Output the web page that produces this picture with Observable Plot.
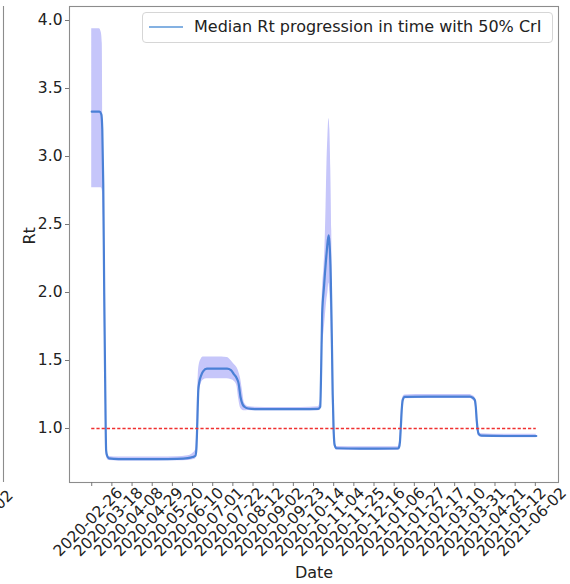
<!DOCTYPE html>
<html><head><meta charset="utf-8">
<script src="https://cdn.jsdelivr.net/npm/d3@7"></script>
<script src="https://cdn.jsdelivr.net/npm/@observablehq/plot@0.6"></script>
<style>
body{margin:0;background:#fff;}
#wrap{position:relative;width:570px;height:584px;overflow:hidden;font-family:"DejaVu Sans",sans-serif;}
#wrap > svg{position:absolute;left:0;top:0;}
#legend{position:absolute;left:142px;top:12px;width:409px;height:29px;border:1px solid #d6d6d6;border-radius:4px;background:rgba(255,255,255,0.85);}
#side{position:absolute;left:0;top:0;}
</style></head><body><div id="wrap"></div>
<script>
// ---- data ----
const dates = ["2020-02-26","2020-03-01","2020-03-05","2020-03-07","2020-03-08","2020-03-09","2020-03-10","2020-03-11","2020-03-12","2020-03-13","2020-03-15","2020-03-25","2020-04-15","2020-05-05","2020-05-25","2020-06-05","2020-06-10","2020-06-13","2020-06-14","2020-06-15","2020-06-16","2020-06-17","2020-06-19","2020-06-21","2020-06-25","2020-07-05","2020-07-16","2020-07-20","2020-07-23","2020-07-26","2020-07-28","2020-07-30","2020-08-01","2020-08-03","2020-08-07","2020-08-14","2020-09-05","2020-10-01","2020-10-19","2020-10-21","2020-10-22","2020-10-23","2020-10-25","2020-10-26","2020-10-27","2020-10-28","2020-10-29","2020-10-30","2020-10-31","2020-11-01","2020-11-02","2020-11-03","2020-11-04","2020-11-05","2020-11-07","2020-12-01","2021-01-10","2021-01-11","2021-01-12","2021-01-13","2021-01-14","2021-01-15","2021-01-17","2021-02-10","2021-03-26","2021-03-29","2021-03-31","2021-04-01","2021-04-02","2021-04-03","2021-04-04","2021-04-07","2021-05-01","2021-06-03"];
const median = [3.33,3.33,3.33,3.31,3.20,2.80,2.00,1.35,0.84,0.80,0.78,0.775,0.775,0.775,0.777,0.782,0.79,0.80,0.85,1.05,1.28,1.34,1.39,1.42,1.44,1.44,1.44,1.43,1.40,1.37,1.33,1.23,1.18,1.16,1.147,1.143,1.142,1.142,1.145,1.16,1.45,1.84,2.05,2.15,2.24,2.32,2.39,2.42,2.32,2.10,1.70,1.25,0.98,0.88,0.855,0.852,0.853,0.86,0.90,1.02,1.15,1.21,1.232,1.235,1.235,1.225,1.21,1.16,1.06,0.99,0.96,0.948,0.945,0.945];
const lower = [2.77,2.77,2.77,2.77,2.75,2.55,1.88,1.28,0.81,0.78,0.765,0.762,0.762,0.762,0.763,0.765,0.77,0.775,0.80,0.95,1.15,1.26,1.33,1.355,1.365,1.365,1.365,1.36,1.35,1.32,1.22,1.15,1.135,1.13,1.132,1.13,1.13,1.13,1.13,1.14,1.25,1.55,1.72,1.80,1.88,1.95,2.00,2.07,2.00,1.85,1.50,1.10,0.93,0.86,0.842,0.84,0.84,0.845,0.87,0.97,1.10,1.19,1.218,1.22,1.22,1.21,1.19,1.13,1.02,0.965,0.945,0.935,0.932,0.932];
const upper = [3.94,3.94,3.94,3.91,3.83,3.00,2.10,1.42,0.87,0.82,0.795,0.79,0.79,0.79,0.793,0.80,0.815,0.84,0.92,1.20,1.40,1.47,1.51,1.525,1.525,1.525,1.522,1.50,1.475,1.45,1.42,1.37,1.28,1.19,1.162,1.157,1.155,1.155,1.16,1.20,1.50,1.95,2.20,2.35,2.62,2.95,3.15,3.28,3.20,2.90,2.45,1.45,1.02,0.90,0.868,0.865,0.866,0.88,0.94,1.07,1.19,1.23,1.247,1.25,1.25,1.24,1.23,1.19,1.10,1.02,0.975,0.962,0.958,0.958];
const xTickLabels = ["2020-02-26","2020-03-18","2020-04-08","2020-04-29","2020-05-20","2020-06-10","2020-07-01","2020-07-22","2020-08-12","2020-09-02","2020-09-23","2020-10-14","2020-11-04","2020-11-25","2020-12-16","2021-01-06","2021-01-27","2021-02-17","2021-03-10","2021-03-31","2021-04-21","2021-05-12","2021-06-02"];
const yTicks = [1.0,1.5,2.0,2.5,3.0,3.5,4.0];
const refLevel = 1.0;
const legendLabel = "Median Rt progression in time with 50% CrI";
const xLabel = "Date";
const yLabel = "Rt";

// ---- build table ----
const rows = dates.map((d, i) => ({date: new Date(d), median: median[i], lo: lower[i], hi: upper[i]}));
const t0 = rows[0].date, t1 = rows[rows.length - 1].date;
const span = t1 - t0;
const xDomain = [new Date(+t0 - span * 0.05), new Date(+t1 + span * 0.05)];
const font = "DejaVu Sans, sans-serif";
const fs = 15.5;

const chart = Plot.plot({
  width: 570, height: 584,
  marginLeft: 69, marginRight: 12, marginTop: 6, marginBottom: 102,
  style: {fontFamily: font, fontSize: fs + "px", background: "transparent", overflow: "visible"},
  x: {type: "utc", domain: xDomain, axis: null},
  y: {domain: [0.603, 4.103], axis: null},
  marks: [
    Plot.areaY(rows, {x: "date", y1: "lo", y2: "hi", fill: "#c6c6fa", curve: "monotone-x"}),
    Plot.lineY(rows, {x: "date", y: "median", stroke: "#4a80d6", strokeWidth: 2.2, curve: "monotone-x"}),
    Plot.ruleY([refLevel], {x1: t0, x2: t1, stroke: "#f03030", strokeWidth: 1.3, strokeDasharray: "3.2,2"}),
    Plot.frame({stroke: "#8c8c8c", strokeWidth: 1.1}),
    Plot.axisY(yTicks, {tickSize: 4, tickPadding: 3, tickFormat: d => d.toFixed(1), label: null, fontSize: fs, stroke: "#777", fill: "#222"}),
    Plot.axisX(xTickLabels.map(s => new Date(s)), {tickSize: 4, tickFormat: () => "", label: null, stroke: "#777"}),
    Plot.text(xTickLabels, {x: d => new Date(d), text: d => d, frameAnchor: "bottom", dy: 43, rotate: -45, textAnchor: "middle", fontSize: fs, fill: "#222"}),
    Plot.text([xLabel], {frameAnchor: "bottom", dy: 95, fontSize: 16, fill: "#222"}),
    Plot.text([yLabel], {frameAnchor: "left", dx: -40, rotate: -90, fontSize: 16, fill: "#222"})
  ]
});
const wrap = document.getElementById("wrap");
wrap.appendChild(chart);

// neighbouring (cropped) panel edge on the far left
const side = d3.create("svg").attr("id", "side").attr("width", 570).attr("height", 584);
side.append("line").attr("x1", 3.5).attr("x2", 3.5).attr("y1", 6).attr("y2", 482).attr("stroke", "#8c8c8c").attr("stroke-width", 1.1);
side.append("text").attr("transform", "translate(-21,525) rotate(-45)").attr("text-anchor", "middle").attr("dominant-baseline", "middle")
  .attr("font-family", font).attr("font-size", fs).attr("fill", "#222").text("2021-06-02");
wrap.appendChild(side.node());

// legend inside the axes
const leg = document.createElement("div");
leg.id = "legend";
leg.innerHTML = `<svg width="409" height="29" style="position:absolute;left:0;top:0"><line x1="6" x2="40" y1="14" y2="14" stroke="#5b97d8" stroke-width="1.6"/><text x="51" y="14" dominant-baseline="middle" font-family="${font}" font-size="16" fill="#222">${legendLabel}</text></svg>`;
wrap.appendChild(leg);
</script></body></html>
